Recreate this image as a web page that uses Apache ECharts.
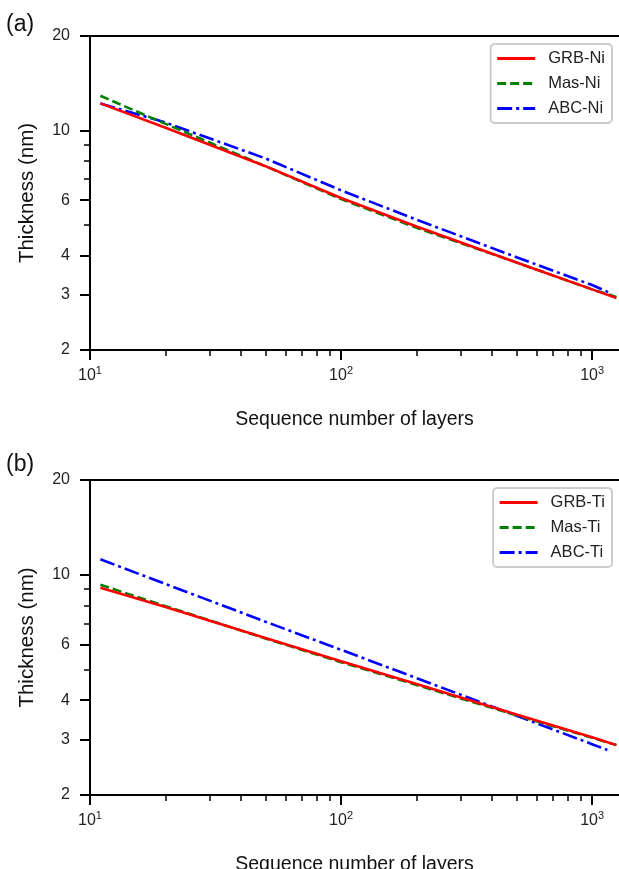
<!DOCTYPE html>
<html>
<head>
<meta charset="utf-8">
<script src="https://cdn.jsdelivr.net/npm/echarts@6/dist/echarts.min.js"></script>
<style>
  html, body { margin: 0; padding: 0; background: #fff; }
  #chart { width: 619px; height: 869px; }
</style>
</head>
<body>
<div id="chart"></div>
<script>
// layer sequence numbers (x) and thicknesses in nm (y)
const layersA = [11, 20, 50, 100, 200, 500, 1000, 1250];
const grbNi = [12.2, 10.2, 7.7, 6.1, 4.95, 3.8, 3.12, 2.93];
const masNi = [12.9, 10.5, 7.7, 6.05, 4.9, 3.8, 3.12, 2.95];
const layersAbcA = [11, 20, 50, 100, 200, 500, 1000, 1200];
const abcNi = [12.2, 10.6, 8.15, 6.45, 5.2, 3.95, 3.22, 3.02];

const layersB = [11, 20, 50, 100, 200, 500, 1000, 1250];
const grbTi = [9.1, 7.9, 6.3, 5.32, 4.5, 3.6, 3.05, 2.88];
const masTi = [9.3, 7.95, 6.28, 5.28, 4.47, 3.58, 3.04, 2.88];
const layersAbcB = [11, 20, 50, 100, 200, 500, 1000, 1150];
const abcTi = [11.2, 9.35, 7.1, 5.78, 4.7, 3.57, 2.9, 2.78];

const xMajor = [10, 100, 1000];
const xMinor = [20, 30, 40, 50, 60, 70, 80, 90, 200, 300, 400, 500, 600, 700, 800, 900];
const yMajor = [2, 3, 4, 6, 10, 20];
const yMinor = [5, 7, 8, 9];

const FONT = '"Liberation Sans", Arial, sans-serif';
const pairs = (xs, ys) => xs.map((x, i) => [x, ys[i]]);

const chart = echarts.init(document.getElementById('chart'));

const panels = [
  { top: 36, height: 314, names: ['GRB-Ni', 'Mas-Ni', 'ABC-Ni'],
    data: [pairs(layersA, grbNi), pairs(layersA, masNi), pairs(layersAbcA, abcNi)] },
  { top: 480, height: 315, names: ['GRB-Ti', 'Mas-Ti', 'ABC-Ti'],
    data: [pairs(layersB, grbTi), pairs(layersB, masTi), pairs(layersAbcB, abcTi)] },
];

const lineStyles = [
  { color: '#ff0000', type: 'solid' },
  { color: '#008000', type: [9, 4] },
  { color: '#0000ff', type: [15, 4, 3, 4] },
];

const grid = [], xAxis = [], yAxis = [], series = [], legend = [];

panels.forEach((p, i) => {
  grid.push({ left: 90, right: 0, top: p.top, height: p.height, outerBoundsMode: 'none', containLabel: false });
  const xBase = { type: 'log', gridIndex: i, min: 10, max: 1280, splitLine: { show: false } };
  const yBase = { type: 'log', gridIndex: i, min: 2, max: 20, splitLine: { show: false } };
  // main x axis: labels 10^n and long ticks
  xAxis.push(Object.assign({}, xBase, {
    position: 'bottom',
    name: 'Sequence number of layers',
    nameLocation: 'middle',
    nameGap: 60,
    nameTextStyle: { fontFamily: FONT, fontSize: 19.5, color: '#111' },
    axisLine: { lineStyle: { color: '#000', width: 2 } },
    axisTick: { length: 10, lineStyle: { width: 2, color: '#000' }, customValues: xMajor },
    axisLabel: {
      customValues: xMajor, margin: 15,
      formatter: v => '{b|10}{s|' + Math.round(Math.log10(v)) + '}',
      rich: {
        b: { fontFamily: FONT, fontSize: 16, color: '#222', lineHeight: 21 },
        s: { fontFamily: FONT, fontSize: 11, color: '#222', verticalAlign: 'top', lineHeight: 11 },
      },
    },
  }));
  // minor x ticks
  xAxis.push(Object.assign({}, xBase, {
    position: 'bottom',
    axisLine: { show: false },
    axisTick: { length: 6, lineStyle: { width: 1.5, color: '#000' }, customValues: xMinor },
    axisLabel: { show: false },
  }));
  // top spine
  xAxis.push(Object.assign({}, xBase, {
    position: 'top',
    axisLine: { lineStyle: { color: '#000', width: 2 } },
    axisTick: { show: false },
    axisLabel: { show: false },
  }));
  yAxis.push(Object.assign({}, yBase, {
    position: 'left',
    name: 'Thickness (nm)',
    nameLocation: 'middle',
    nameGap: 52,
    nameRotate: 90,
    nameTextStyle: { fontFamily: FONT, fontSize: 20.5, color: '#111' },
    axisLine: { lineStyle: { color: '#000', width: 2 } },
    axisTick: { length: 10, lineStyle: { width: 2, color: '#000' }, customValues: yMajor },
    axisLabel: { customValues: yMajor, margin: 20, fontFamily: FONT, fontSize: 16, color: '#222' },
  }));
  yAxis.push(Object.assign({}, yBase, {
    position: 'left',
    axisLine: { show: false },
    axisTick: { length: 6, lineStyle: { width: 1.5, color: '#000' }, customValues: yMinor },
    axisLabel: { show: false },
  }));
  p.names.forEach((name, k) => {
    series.push({
      name, type: 'line', xAxisIndex: i * 3, yAxisIndex: i * 2,
      data: p.data[k], showSymbol: false, symbol: 'none', smooth: false,
      lineStyle: { color: lineStyles[k].color, type: lineStyles[k].type, width: 2.6 },
      itemStyle: { color: lineStyles[k].color },
      z: 3 - k,
    });
  });
  legend.push({
    data: p.names, orient: 'vertical', right: 7, top: p.top + 8,
    itemWidth: 38, itemHeight: 14, itemGap: 8,
    padding: [6, 7, 6, 5],
    borderColor: '#cccccc', borderWidth: 2, borderRadius: 4,
    itemStyle: { opacity: 0 },
    lineStyle: { width: 3 },
    textStyle: { fontFamily: FONT, fontSize: 16.5, color: '#222', padding: [0, 0, 0, 8], lineHeight: 16.5 },
  });
});

chart.setOption({
  animation: false,
  grid, xAxis, yAxis, series, legend,
  graphic: [
    { type: 'text', left: 6, top: 13, style: { text: '(a)', font: '23px ' + FONT, fill: '#111' } },
    { type: 'text', left: 6, top: 453, style: { text: '(b)', font: '23px ' + FONT, fill: '#111' } },
  ],
});
</script>
</body>
</html>
